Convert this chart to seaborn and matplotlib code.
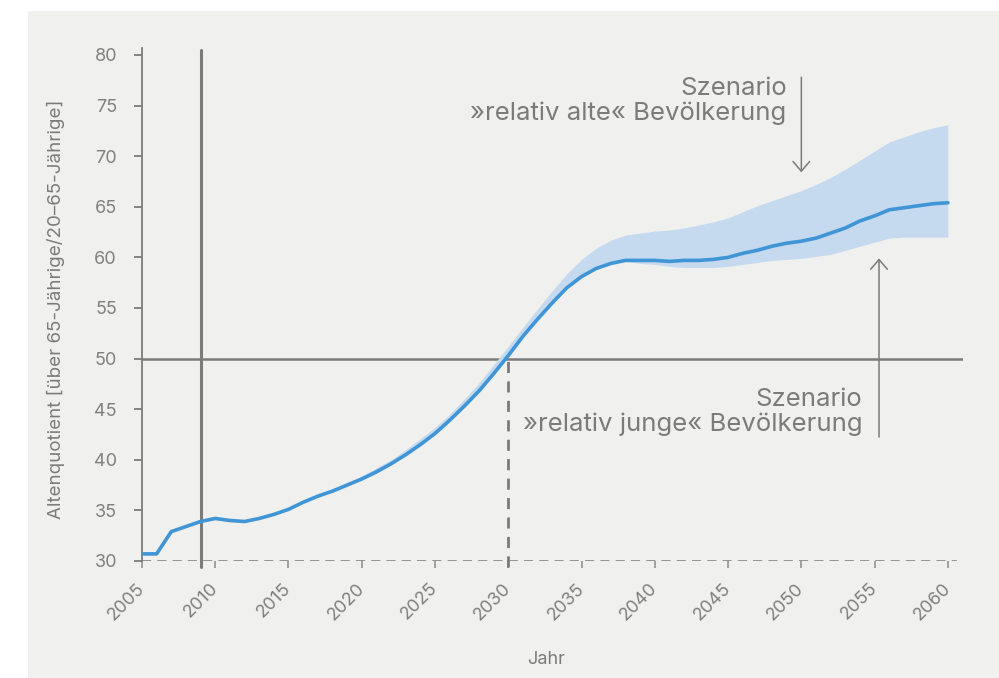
import numpy as np
import pandas as pd
import seaborn as sns
import matplotlib.pyplot as plt
from matplotlib.patches import Rectangle

# Altenquotient data
years = list(range(2005, 2061))
altenquotient = [30.7, 30.7, 32.9, 33.4, 33.9, 34.2, 34.0, 33.9, 34.2, 34.6,
                 35.1, 35.8, 36.4, 36.9, 37.5, 38.1, 38.8, 39.6, 40.5, 41.5,
                 42.6, 43.9, 45.3, 46.8, 48.5, 50.3, 52.2, 53.9, 55.5, 57.0,
                 58.1, 58.9, 59.4, 59.7, 59.7, 59.7, 59.6, 59.7, 59.7, 59.8,
                 60.0, 60.4, 60.7, 61.1, 61.4, 61.6, 61.9, 62.4, 62.9, 63.6,
                 64.1, 64.7, 64.9, 65.1, 65.3, 65.4]

# scenario band
band_years = list(range(2016, 2061))
band_upper = [35.8, 36.5, 37.1, 37.7, 38.4, 39.2, 40.0, 41.0, 42.1, 43.2,
              44.5, 46.0, 47.6, 49.4, 51.2, 53.1, 54.9, 56.7, 58.4, 59.8,
              60.9, 61.7, 62.2, 62.4, 62.6, 62.7, 62.9, 63.2, 63.5, 63.9,
              64.5, 65.1, 65.6, 66.1, 66.6, 67.2, 67.9, 68.7, 69.6, 70.5,
              71.4, 71.9, 72.4, 72.8, 73.1]
band_lower = [35.8, 36.4, 36.9, 37.5, 38.1, 38.8, 39.6, 40.5, 41.5, 42.6,
              43.9, 45.3, 46.8, 48.5, 50.3, 52.2, 53.9, 55.5, 57.0, 58.1,
              58.9, 59.4, 59.6, 59.4, 59.3, 59.1, 59.0, 59.0, 59.0, 59.1,
              59.3, 59.5, 59.7, 59.8, 59.9, 60.1, 60.3, 60.7, 61.1, 61.5,
              61.9, 62.0, 62.0, 62.0, 62.0]

yticks = list(range(30, 81, 5))
xticks = list(range(2005, 2061, 5))

df = pd.DataFrame({'Jahr': years, 'Altenquotient': altenquotient})

sns.set_theme(style='white')
plt.rcParams['font.family'] = ['Inter', 'DejaVu Sans']

gray = '#7b7b7b'
bg = '#f0f0ef'
blue = '#3f95d5'
band_col = '#c5d9ef'

fig = plt.figure(figsize=(9.99, 6.78), dpi=100)
fig.patch.set_facecolor('white')
fig.patches.append(Rectangle((28 / 999, 0), 1 - 28 / 999, (678 - 11) / 678,
                             transform=fig.transFigure, facecolor=bg,
                             edgecolor='none', zorder=-10))
ax = fig.add_axes([0.1421, 0.1726, 0.8214, 0.7568])
ax.set_facecolor('none')

# band + line
ax.fill_between(band_years, band_lower, band_upper, color=band_col, lw=0, zorder=2)
sns.lineplot(data=df, x='Jahr', y='Altenquotient', color=blue, lw=2.6, ax=ax, zorder=3)

ax.set_xlim(2005, 2061)
ax.set_ylim(30, 80.7)

# reference lines
ax.axhline(50, color=gray, lw=1.8, zorder=1)
ax.plot([2009, 2009], [29.4, 80.5], color=gray, lw=2.2, clip_on=False, zorder=1)
ax.plot([2030, 2030], [29.4, 50], color=gray, lw=2, ls=(0, (4, 3)), clip_on=False, zorder=1)
ax.hlines(30, 2005, 2060.6, color=gray, lw=1.1, ls=(0, (6, 4)), zorder=1)

# spines and ticks
for s in ['top', 'right', 'bottom']:
    ax.spines[s].set_visible(False)
ax.spines['left'].set_color(gray)
ax.spines['left'].set_linewidth(1.3)

ax.set_yticks(yticks)
ax.set_xticks(xticks)
ax.tick_params(axis='y', length=6, width=1.3, color=gray, labelcolor='#808080',
               labelsize=13, pad=12, left=True)
ax.tick_params(axis='x', length=5, width=1.3, color='#9a9a9a', labelcolor='#808080',
               labelsize=13, pad=13, bottom=True)
for lab in ax.get_xticklabels():
    lab.set_rotation(45)
    lab.set_ha('right')
    lab.set_va('center')
    lab.set_rotation_mode('anchor')

ax.set_xlabel('Jahr', fontsize=13, color=gray)
ax.set_ylabel('Altenquotient [über 65-Jährige/20–65-Jährige]', fontsize=13.5, color=gray)
ax.xaxis.set_label_coords(0.492, -0.175)
ax.yaxis.set_label_coords(-0.094, 0.49)

# annotations
ax.text(2049.0, 75.45, 'Szenario\n»relativ alte« Bevölkerung', ha='right', va='center',
        fontsize=18.5, color=gray, linespacing=1.05)
ax.annotate('', xy=(2050, 68.4), xytext=(2050, 77.8),
            arrowprops=dict(arrowstyle='->,head_length=0.35,head_width=0.3',
                            color=gray, lw=1.1, mutation_scale=20, shrinkA=0, shrinkB=0))
ax.text(2054.15, 44.7, 'Szenario\n»relativ junge« Bevölkerung', ha='right', va='center',
        fontsize=18.5, color=gray, linespacing=1.05)
ax.annotate('', xy=(2055.3, 59.9), xytext=(2055.3, 42.25),
            arrowprops=dict(arrowstyle='->,head_length=0.35,head_width=0.3',
                            color=gray, lw=1.1, mutation_scale=20, shrinkA=0, shrinkB=0))

fig.savefig('out.png', dpi=100)
